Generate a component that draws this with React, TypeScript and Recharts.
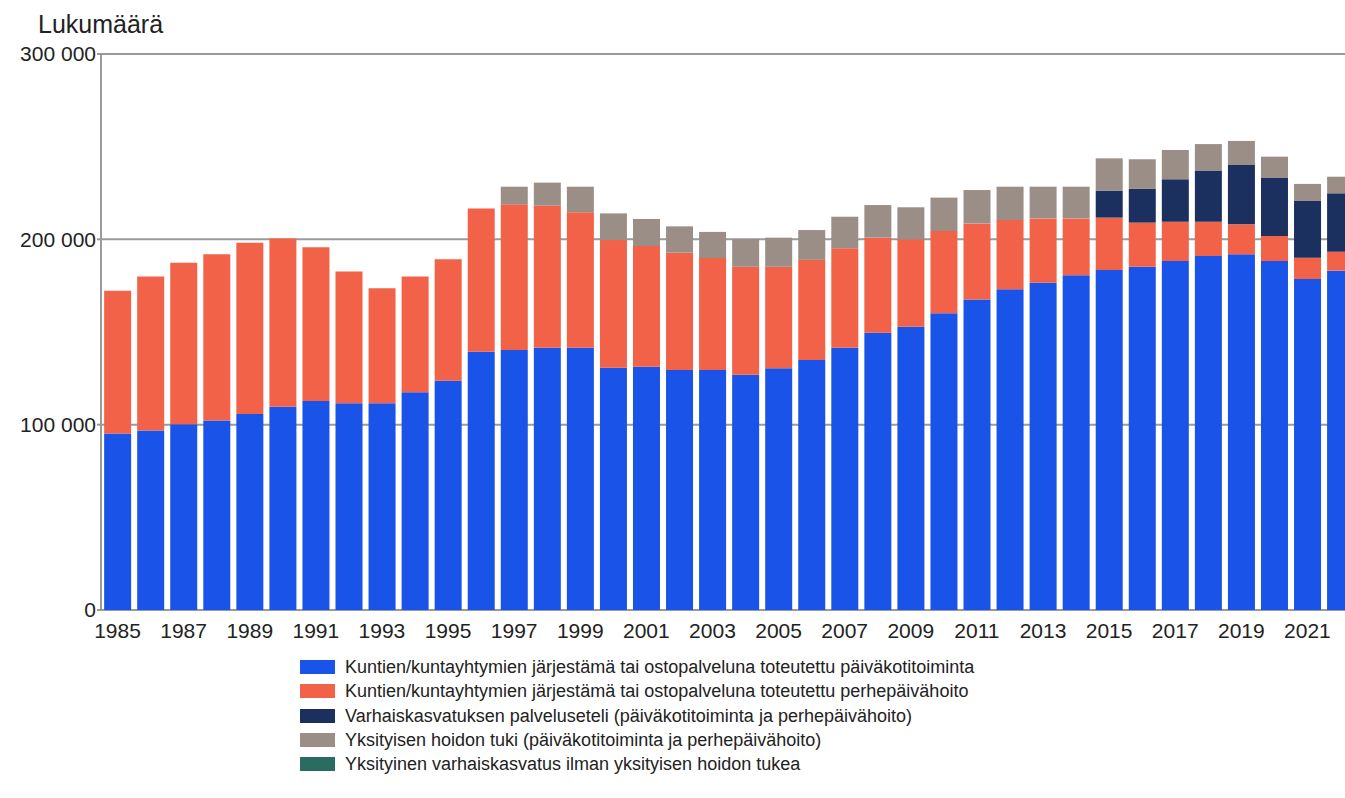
import { Bar, BarChart, CartesianGrid, Legend, XAxis, YAxis } from "recharts";

const YEARS = [
  "1985", "1986", "1987", "1988", "1989", "1990", "1991", "1992", "1993", "1994",
  "1995", "1996", "1997", "1998", "1999", "2000", "2001", "2002", "2003", "2004",
  "2005", "2006", "2007", "2008", "2009", "2010", "2011", "2012", "2013", "2014",
  "2015", "2016", "2017", "2018", "2019", "2020", "2021", "2022",
];

// kunnallinen päiväkotitoiminta
const KUNTA_PK = [
  95300, 96800, 100200, 102200, 105800, 109700, 112800, 111500, 111500, 117500,
  123700, 139400, 140300, 141500, 141500, 130700, 131300, 129500, 129500, 127000,
  130400, 134900, 141500, 149600, 152900, 160100, 167600, 173000, 176600, 180600,
  183500, 185200, 188300, 191000, 191900, 188300, 178600, 183100,
];

// kunnallinen perhepäivähoito
const KUNTA_PPH = [
  77000, 83100, 87200, 89700, 92400, 90700, 82900, 71200, 62100, 62400,
  65500, 77300, 78600, 76700, 73100, 68900, 65100, 63300, 60400, 58200,
  54800, 54000, 53700, 51300, 47100, 44400, 41000, 37400, 34700, 30700,
  28200, 23800, 21200, 18500, 16200, 13500, 11500, 10200,
];

// palveluseteli
const SETELI = [
  0, 0, 0, 0, 0, 0, 0, 0, 0, 0,
  0, 0, 0, 0, 0, 0, 0, 0, 0, 0,
  0, 0, 0, 0, 0, 0, 0, 0, 0, 0,
  14600, 18200, 22900, 27600, 32000, 31500, 30600, 31500,
];

// yksityisen hoidon tuki
const YKS_TUKI = [
  0, 0, 0, 0, 0, 0, 0, 0, 0, 0,
  0, 0, 9500, 12400, 13800, 14400, 14600, 14200, 14100, 15000,
  15700, 16100, 17000, 17600, 17300, 18000, 18000, 18000, 17100, 17100,
  17400, 16000, 15800, 14300, 13000, 11300, 9200, 9000,
];

// yksityinen ilman tukea
const YKS_MUU = YEARS.map(() => 0);

const Y_TICKS = [0, 100000, 200000, 300000];

const SERIES = [
  { key: "kuntaPk", name: "Kuntien/kuntayhtymien järjestämä tai ostopalveluna toteutettu päiväkotitoiminta", color: "#1a53e8" },
  { key: "kuntaPph", name: "Kuntien/kuntayhtymien järjestämä tai ostopalveluna toteutettu perhepäivähoito", color: "#f26249" },
  { key: "seteli", name: "Varhaiskasvatuksen palveluseteli (päiväkotitoiminta ja perhepäivähoito)", color: "#1b305f" },
  { key: "yksTuki", name: "Yksityisen hoidon tuki (päiväkotitoiminta ja perhepäivähoito)", color: "#9b8e87" },
  { key: "yksMuu", name: "Yksityinen varhaiskasvatus ilman yksityisen hoidon tukea", color: "#2b6c60" },
];

const data = YEARS.map((year, i) => ({
  year,
  kuntaPk: KUNTA_PK[i],
  kuntaPph: KUNTA_PPH[i],
  seteli: SETELI[i],
  yksTuki: YKS_TUKI[i],
  yksMuu: YKS_MUU[i],
}));

const FONT = '"Liberation Sans", Arial, sans-serif';

const fmt = (v: number) => (v === 0 ? "0" : v.toLocaleString("fi-FI").replace(/\s/g, " "));

function LegendBox() {
  return (
    <div style={{ fontFamily: FONT, fontSize: 18, color: "#222", lineHeight: "24.3px" }}>
      {SERIES.map((s) => (
        <div key={s.key} style={{ display: "flex", alignItems: "center", whiteSpace: "nowrap" }}>
          <span style={{ display: "inline-block", width: 35, height: 14, background: s.color, marginRight: 10 }} />
          {s.name}
        </div>
      ))}
    </div>
  );
}

export default function App() {
  return (
    <div
      style={{
        position: "fixed",
        left: 0,
        top: 0,
        width: 1345,
        height: 798,
        overflow: "hidden",
        background: "#fff",
        fontFamily: FONT,
      }}
    >
      <BarChart
        width={1357}
        height={798}
        data={data}
        margin={{ top: 54, right: 0, left: 0, bottom: 158 }}
        barCategoryGap="9.5%"
      >
        <CartesianGrid vertical={false} stroke="#9a9a9a" strokeWidth={2} />
        <XAxis
          dataKey="year"
          interval={1}
          axisLine={false}
          tickLine={false}
          tickSize={6}
          tickMargin={7}
          height={30}
          tick={{ fontSize: 21, fill: "#222", fontFamily: FONT }}
        />
        <YAxis
          width={101}
          domain={[0, 300000]}
          ticks={Y_TICKS}
          tickFormatter={fmt}
          axisLine={{ stroke: "#9a9a9a", strokeWidth: 2 }}
          tickLine={{ stroke: "#9a9a9a", strokeWidth: 2 }}
          tickSize={4}
          tickMargin={1}
          tick={{ fontSize: 21, fill: "#222", fontFamily: FONT }}
          label={{
            content: () => (
              <text x={38} y={33} fontSize={25} fill="#222" fontFamily={FONT}>
                Lukumäärä
              </text>
            ),
          }}
        />
        <Legend
          layout="vertical"
          align="center"
          verticalAlign="middle"
          wrapperStyle={{ left: 300, top: 655, width: "auto", height: "auto" }}
          content={() => <LegendBox />}
        />
        {SERIES.map((s) => (
          <Bar key={s.key} dataKey={s.key} name={s.name} stackId="a" fill={s.color} isAnimationActive={false} />
        ))}
      </BarChart>
    </div>
  );
}
